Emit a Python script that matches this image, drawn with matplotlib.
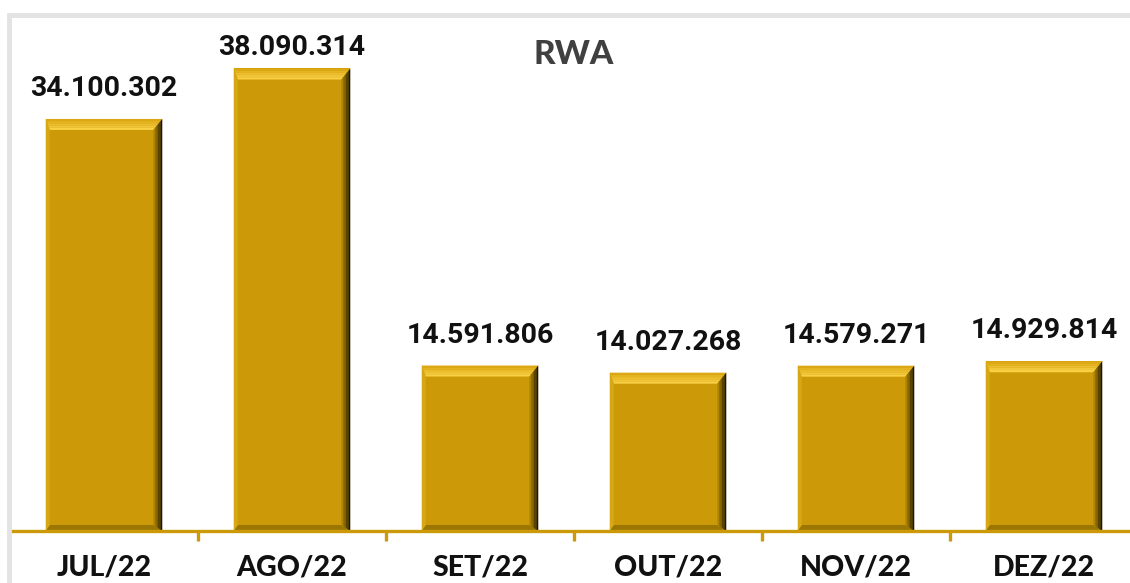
import matplotlib
matplotlib.use("Agg")
import matplotlib.pyplot as plt
from matplotlib.patches import Polygon, Rectangle
from matplotlib.transforms import IdentityTransform

categories = ["JUL/22", "AGO/22", "SET/22", "OUT/22", "NOV/22", "DEZ/22"]
values = [34100302, 38090314, 14591806, 14027268, 14579271, 14929814]
labels = ["34.100.302", "38.090.314", "14.591.806", "14.027.268", "14.579.271", "14.929.814"]
title = "RWA"

W, H, DPI = 1130, 583, 100
fig = plt.figure(figsize=(W / DPI, H / DPI), dpi=DPI)
fig.patch.set_facecolor("white")

# outer light-gray frame
fig.add_artist(Rectangle((9 / W, -0.1), 1.2, (H - 15) / H + 0.1, transform=fig.transFigure,
                         fill=False, edgecolor="#e3e3e3", linewidth=3.5))

ax_left = 10 / W
ax_w = 1128 / W
ax_bot = (H - 531) / H
ax_top = (H - 20) / H
ax = fig.add_axes([ax_left, ax_bot, ax_w, ax_top - ax_bot])
ax.set_facecolor("none")

ymin = 1.5e6
px_per_unit = 12.64 / 1e6
ymax = ymin + (531 - 20) / px_per_unit
ax.set_xlim(-0.5, len(categories) - 0.5)
ax.set_ylim(ymin, ymax)

gold = "#CC9A08"
x = list(range(len(categories)))
bars = ax.bar(x, values, width=0.62, color=gold, bottom=0, zorder=2)

for s in ["top", "right", "left"]:
    ax.spines[s].set_visible(False)
ax.spines["bottom"].set_color(gold)
ax.spines["bottom"].set_linewidth(2.4)
ax.spines["bottom"].set_zorder(4)
ax.set_yticks([])
ax.set_xticks([i + 0.5 for i in x[:-1]], minor=True)
ax.set_xticks(x)
ax.set_xticklabels(categories, fontfamily="Lato", fontweight="black", fontsize=20.5, color="#111111")
ax.tick_params(axis="x", which="major", length=0, pad=17)
ax.tick_params(axis="x", which="minor", length=7, width=2.4, color=gold, direction="out")


def lerp(c1, c2, f):
    a = [int(c1[i:i + 2], 16) for i in (1, 3, 5)]
    b = [int(c2[i:i + 2], 16) for i in (1, 3, 5)]
    return "#" + "".join(f"{round(a[k] + (b[k] - a[k]) * f):02x}" for k in range(3))


# bevel effect drawn in display space around each bar
ident = IdentityTransform()
t, r, bt, l = 11, 9, 6, 4
for b in bars:
    x0, y0 = ax.transData.transform((b.get_x(), ymin))
    x1, y1 = ax.transData.transform((b.get_x() + b.get_width(), b.get_height()))
    polys = []
    n = 5
    for k in range(n):
        f0, f1 = k / n, (k + 1) / n
        pts = [(x0 + l * f0, y1 - t * f0), (x1 - r * f0, y1 - t * f0),
               (x1 - r * f1, y1 - t * f1), (x0 + l * f1, y1 - t * f1)]
        polys.append((pts, lerp("#DCA914", "#FAD045", k / (n - 1))))
    polys.append(([(x0, y0), (x1, y0), (x1 - r, y0 + bt), (x0 + l, y0 + bt)], "#9C7602"))
    polys.append(([(x0, y1), (x0, y0), (x0 + l, y0 + bt), (x0 + l, y1 - t)], "#D8A714"))
    n = 6
    for k in range(n):
        f0, f1 = k / n, (k + 1) / n
        xa, xb = x1 - r + r * f0, x1 - r + r * f1
        pts = [(xa, y1 - t * (1 - f0)), (xb, y1 - t * (1 - f1)),
               (xb, y0 + bt * (1 - f1)), (xa, y0 + bt * (1 - f0))]
        polys.append((pts, lerp("#B08604", "#1e1700", k / (n - 1))))
    for pts, c in polys:
        ax.add_patch(Polygon(pts, closed=True, transform=ident, facecolor=c,
                             edgecolor="none", zorder=3, clip_on=False, antialiased=True))

# value labels: fixed gap above the bar, kept inside the plot area
gap_px = 23
top_limit_px = 55
for xi, v, lab in zip(x, values, labels):
    _, ytop = ax.transData.transform((xi, v))
    base = min(ytop + gap_px, H - top_limit_px)
    yax = ax.transAxes.inverted().transform((0, base))[1]
    ax.text(xi, yax, lab, transform=ax.get_xaxis_transform(), ha="center", va="baseline",
            fontfamily="Roboto", fontweight="bold", fontsize=20.5, color="#111111", zorder=5)

fig.text(574 / W, 1 - 54 / H, title, ha="center", va="center", fontfamily="Lato",
         fontweight="black", fontsize=24, color="#404040")

fig.savefig("out.png", dpi=DPI, facecolor="white")
